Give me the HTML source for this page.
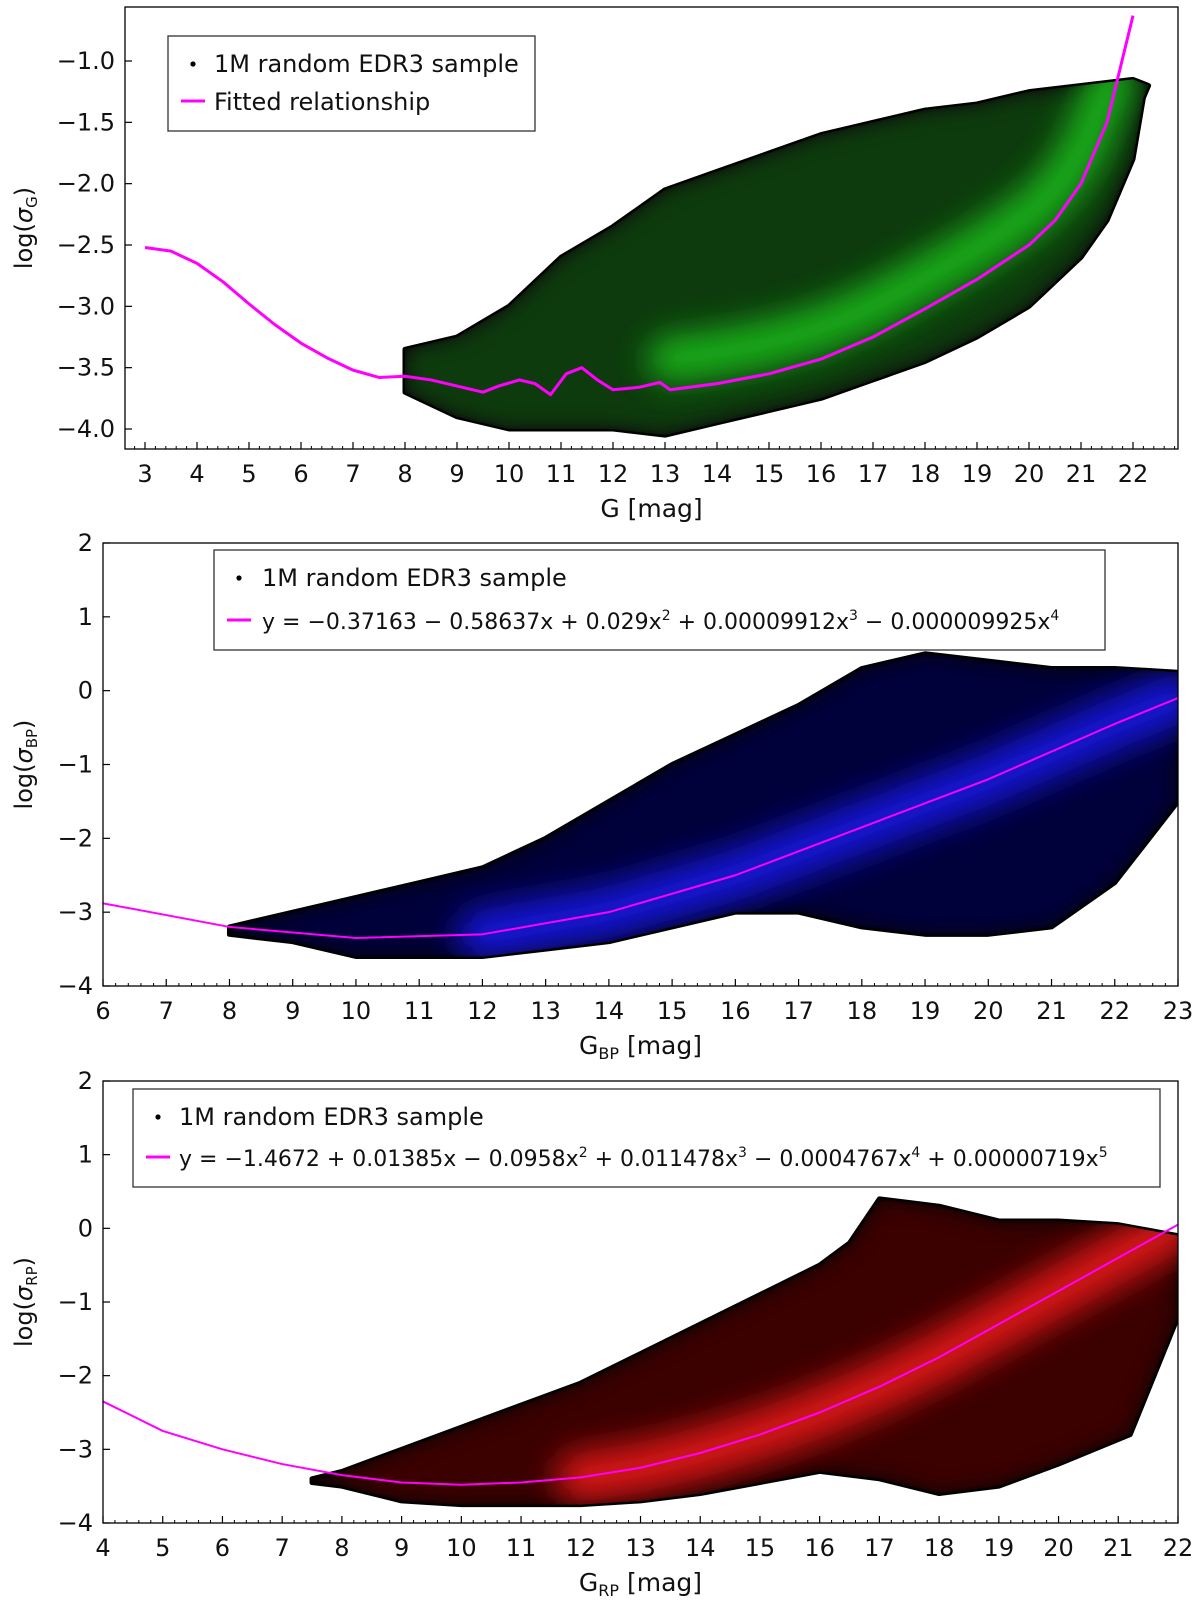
<!DOCTYPE html>
<html><head><meta charset="utf-8"><style>
body{margin:0;background:#fff;}
svg{display:block;font-family:"DejaVu Sans","Liberation Sans",sans-serif;}
</style></head><body>
<svg id="c" width="1200" height="1611" viewBox="0 0 1200 1611" xmlns="http://www.w3.org/2000/svg">
<defs>
<filter id="blur" x="-20%" y="-20%" width="140%" height="140%"><feGaussianBlur stdDeviation="16"/></filter>
<filter id="blur2" x="-20%" y="-20%" width="140%" height="140%"><feGaussianBlur stdDeviation="10"/></filter>
</defs>
</svg>
<script>
// ---- Panel 1 data ----
const p1CurveX=[3,3.5,4,4.5,5,5.5,6,6.5,7,7.5,8,8.5,9,9.5,9.8,10.2,10.5,10.8,11.1,11.4,11.7,12,12.5,12.9,13.1,14,15,16,17,18,19,20,20.5,21,21.5,22];
const p1CurveY=[-2.52,-2.55,-2.65,-2.8,-2.98,-3.15,-3.3,-3.42,-3.52,-3.58,-3.57,-3.6,-3.65,-3.7,-3.65,-3.6,-3.63,-3.72,-3.55,-3.5,-3.6,-3.68,-3.66,-3.62,-3.68,-3.63,-3.55,-3.43,-3.25,-3.02,-2.78,-2.5,-2.3,-2.0,-1.5,-0.63];
const p1UpX=[8,9,10,11,12,13,14,15,16,17,18,19,20,21,22,22.3];
const p1UpY=[-3.35,-3.25,-3.0,-2.6,-2.35,-2.05,-1.9,-1.75,-1.6,-1.5,-1.4,-1.35,-1.25,-1.2,-1.15,-1.2];
const p1LoX=[22.2,22,21.5,21,20,19,18,17,16,15,14,13,12,11,10,9,8];
const p1LoY=[-1.3,-1.8,-2.3,-2.6,-3.0,-3.25,-3.45,-3.6,-3.75,-3.85,-3.95,-4.05,-4.0,-4.0,-4.0,-3.9,-3.7];
const p1XTicks=[3,4,5,6,7,8,9,10,11,12,13,14,15,16,17,18,19,20,21,22];
const p1YTicks=[-1.0,-1.5,-2.0,-2.5,-3.0,-3.5,-4.0];
// ---- Panel 2 data ----
const p2CurveX=[6,8,10,12,14,16,18,20,22,23];
const p2CurveY=[-2.88,-3.2,-3.35,-3.3,-3.0,-2.5,-1.85,-1.2,-0.45,-0.1];
const p2UpX=[8,9,10,11,12,13,14,15,16,17,18,19,20,21,22,23];
const p2UpY=[-3.2,-3.0,-2.8,-2.6,-2.4,-2.0,-1.5,-1.0,-0.6,-0.2,0.3,0.5,0.4,0.3,0.3,0.25];
const p2LoX=[23,22,21,20,19,18,17,16,15,14,13,12,11,10,9,8];
const p2LoY=[-1.5,-2.6,-3.2,-3.3,-3.3,-3.2,-3.0,-3.0,-3.2,-3.4,-3.5,-3.6,-3.6,-3.6,-3.4,-3.3];
const p2XTicks=[6,7,8,9,10,11,12,13,14,15,16,17,18,19,20,21,22,23];
const p2YTicks=[2,1,0,-1,-2,-3,-4];
// ---- Panel 3 data ----
const p3CurveX=[4,5,6,7,8,9,10,11,12,13,14,15,16,17,18,19,20,21,22];
const p3CurveY=[-2.35,-2.75,-3.0,-3.2,-3.35,-3.45,-3.48,-3.45,-3.38,-3.25,-3.05,-2.8,-2.5,-2.15,-1.75,-1.3,-0.85,-0.4,0.05];
const p3UpX=[7.5,8,9,10,11,12,13,14,15,16,16.5,17,18,19,20,21,22];
const p3UpY=[-3.4,-3.3,-3.0,-2.7,-2.4,-2.1,-1.7,-1.3,-0.9,-0.5,-0.2,0.4,0.3,0.1,0.1,0.05,-0.1];
const p3LoX=[22,21.2,20,19,18,17,16,15,14,13,12,11,10,9,8,7.5];
const p3LoY=[-1.2,-2.8,-3.2,-3.5,-3.6,-3.4,-3.3,-3.45,-3.6,-3.7,-3.75,-3.75,-3.75,-3.7,-3.5,-3.45];
const p3XTicks=[4,5,6,7,8,9,10,11,12,13,14,15,16,17,18,19,20,21,22];
const p3YTicks=[2,1,0,-1,-2,-3,-4];

const NS="http://www.w3.org/2000/svg";
const svg=document.getElementById('c');
function mk(tag,attrs,parent,text){const e=document.createElementNS(NS,tag);for(const k in attrs)e.setAttribute(k,attrs[k]);if(text!==undefined)e.textContent=text;(parent||svg).appendChild(e);return e;}

function panel(cfg){
  const g=mk('g',{});
  
  
  const sx=v=>cfg.x0px+(v-cfg.x0)*(cfg.x1px-cfg.x0px)/(cfg.x1-cfg.x0);
  const sy=v=>cfg.y0px+(v-cfg.y0)*(cfg.y1px-cfg.y0px)/(cfg.y1-cfg.y0);
  const clipId=cfg.name+'-clip';
  const cp=mk('clipPath',{id:clipId},g);
  mk('rect',{x:cfg.L,y:cfg.T,width:cfg.R-cfg.L,height:cfg.B-cfg.T},cp);
  const plot=mk('g',{'clip-path':'url(#'+clipId+')'},g);
  let pts=[];
  cfg.upX.forEach((x,i)=>pts.push(sx(x)+','+sy(cfg.upY[i])));
  cfg.loX.forEach((x,i)=>pts.push(sx(x)+','+sy(cfg.loY[i])));
  const cloudClip=cfg.name+'-cloudclip';
  const cc=mk('clipPath',{id:cloudClip},g);
  mk('polygon',{points:pts.join(' ')},cc);
  const cloud=mk('polygon',{points:pts.join(' '),fill:'#050505',stroke:'#000','stroke-width':5,'stroke-linejoin':'round'},plot);
  
  
  const inside=mk('g',{'clip-path':'url(#'+cloudClip+')'},plot);
  const inner=mk('polygon',{points:pts.join(' '),fill:cfg.dark,filter:'url(#blur2)'},inside);
  const core=mk('polyline',{points:cfg.cX.filter(x=>x>=cfg.coreFrom).map(x=>{const j=cfg.cX.indexOf(x);return sx(x)+','+sy(cfg.cY[j]+cfg.coreOff);}).join(' '),fill:'none',stroke:cfg.bright,'stroke-width':cfg.coreW,'stroke-linecap':'round',filter:'url(#blur)',opacity:0.8},inside);
  
  
  const c=mk('polyline',{points:cfg.cX.map((x,i)=>sx(x)+','+sy(cfg.cY[i])).join(' '),fill:'none',stroke:'#ff00ff','stroke-width':cfg.lw,'stroke-linejoin':'round'},plot);
  
  
  mk('rect',{x:cfg.L,y:cfg.T,width:cfg.R-cfg.L,height:cfg.B-cfg.T,fill:'none',stroke:'#000','stroke-width':1.3},g);
  cfg.xt.forEach(v=>{
    const X=sx(v);
    mk('line',{x1:X,x2:X,y1:cfg.B,y2:cfg.B-7,stroke:'#000','stroke-width':1.2},g);
    const t=mk('text',{x:X,y:cfg.B+33,'text-anchor':'middle','font-size':24,fill:'#111'},g,String(v));
    
    
    for(let k=1;k<5;k++){const m=sx(v+k*0.2);if(m<cfg.R&&m>cfg.L)mk('line',{x1:m,x2:m,y1:cfg.B,y2:cfg.B-3,stroke:'#000','stroke-width':1},g);}
    for(let k=1;k<5;k++){const m=sx(v-k*0.2);if(v===cfg.xt[0]&&m>cfg.L)mk('line',{x1:m,x2:m,y1:cfg.B,y2:cfg.B-3,stroke:'#000','stroke-width':1},g);}
  });
  cfg.yt.forEach(v=>{
    const Y=sy(v);
    mk('line',{x1:cfg.L,x2:cfg.L+7,y1:Y,y2:Y,stroke:'#000','stroke-width':1.2},g);
    const s=(v<0?'\u2212':'')+Math.abs(v).toFixed(cfg.yd);
    const t=mk('text',{x:cfg.L-10,y:Y+8,'text-anchor':'end','font-size':24,fill:'#111'},g,s);
    
    
  });
  const xt=mk('text',{x:(cfg.L+cfg.R)/2,y:cfg.B+68,'text-anchor':'middle','font-size':25,fill:'#111'},g);
  
  
  xt.innerHTML=cfg.xtitle;
  const yt=mk('text',{x:0,y:0,'text-anchor':'middle','font-size':24,fill:'#111',transform:`translate(32,${(cfg.T+cfg.B)/2}) rotate(-90)`},g);
  
  
  yt.innerHTML=cfg.ytitle;
  const lg=mk('g',{},g);
  
  
  const [lx,ly,lw,lh]=cfg.leg;
  mk('rect',{x:lx,y:ly,width:lw,height:lh,fill:'#fff',stroke:'#333','stroke-width':1.3},lg);
  mk('circle',{cx:lx+cfg.dotX,cy:ly+28,r:2.6,fill:'#000'},lg);
  const t1=mk('text',{x:lx+cfg.txtX,y:ly+36,'font-size':24,fill:'#111'},lg,'1M random EDR3 sample');
  
  
  mk('line',{x1:lx+cfg.dotX-12,x2:lx+cfg.dotX+12,y1:ly+lh-30,y2:ly+lh-30,stroke:'#ff00ff','stroke-width':3},lg);
  const t2=mk('text',{x:lx+cfg.txtX,y:ly+lh-21,'font-size':cfg.fs2,fill:'#111'},lg);
  
  
  t2.innerHTML=cfg.fitText;
}

panel({name:'panel-g',L:125,R:1178,T:7,B:449,x0:3,x1:22,x0px:145,x1px:1133,y0:-1,y1:-4,y0px:61,y1px:429,
 cX:p1CurveX,cY:p1CurveY,upX:p1UpX,upY:p1UpY,loX:p1LoX,loY:p1LoY,xt:p1XTicks,yt:p1YTicks,yd:1,
 dark:'#0e3a0e',bright:'#1fcc1f',coreFrom:13,coreOff:0.25,coreW:45,lw:3,
 xtitle:'G [mag]',ytitle:'log(<tspan font-style="italic">σ</tspan><tspan font-size="15" dy="5">G</tspan><tspan dy="-5">)</tspan>',
 leg:[168,36,367,95],dotX:25,txtX:46,fs2:24,fitText:'Fitted relationship'});
panel({name:'panel-bp',L:103,R:1178,T:543,B:986,x0:6,x1:23,x0px:103,x1px:1178,y0:2,y1:-4,y0px:543,y1px:986,
 cX:p2CurveX,cY:p2CurveY,upX:p2UpX,upY:p2UpY,loX:p2LoX,loY:p2LoY,xt:p2XTicks,yt:p2YTicks,yd:0,
 dark:'#05053a',bright:'#1a1aff',coreFrom:12,coreOff:0,coreW:50,lw:2,
 xtitle:'G<tspan font-size="16" dy="5">BP</tspan><tspan dy="-5"> [mag]</tspan>',ytitle:'log(<tspan font-style="italic">σ</tspan><tspan font-size="15" dy="5">BP</tspan><tspan dy="-5">)</tspan>',
 leg:[214,550,891,100],dotX:25,txtX:48,fs2:22,fitText:'y = −0.37163 − 0.58637x + 0.029x<tspan font-size="14" dy="-9">2</tspan><tspan dy="9"> + 0.00009912x</tspan><tspan font-size="14" dy="-9">3</tspan><tspan dy="9"> − 0.000009925x</tspan><tspan font-size="14" dy="-9">4</tspan>'});
panel({name:'panel-rp',L:103,R:1178,T:1081,B:1523,x0:4,x1:22,x0px:103,x1px:1178,y0:2,y1:-4,y0px:1081,y1px:1523,
 cX:p3CurveX,cY:p3CurveY,upX:p3UpX,upY:p3UpY,loX:p3LoX,loY:p3LoY,xt:p3XTicks,yt:p3YTicks,yd:0,
 dark:'#3a0505',bright:'#ff1a1a',coreFrom:12,coreOff:0,coreW:50,lw:2,
 xtitle:'G<tspan font-size="16" dy="5">RP</tspan><tspan dy="-5"> [mag]</tspan>',ytitle:'log(<tspan font-style="italic">σ</tspan><tspan font-size="15" dy="5">RP</tspan><tspan dy="-5">)</tspan>',
 leg:[133,1089,1027,98],dotX:25,txtX:46,fs2:22,fitText:'y = −1.4672 + 0.01385x − 0.0958x<tspan font-size="14" dy="-9">2</tspan><tspan dy="9"> + 0.011478x</tspan><tspan font-size="14" dy="-9">3</tspan><tspan dy="9"> − 0.0004767x</tspan><tspan font-size="14" dy="-9">4</tspan><tspan dy="9"> + 0.00000719x</tspan><tspan font-size="14" dy="-9">5</tspan>'});
</script>
</body></html>
